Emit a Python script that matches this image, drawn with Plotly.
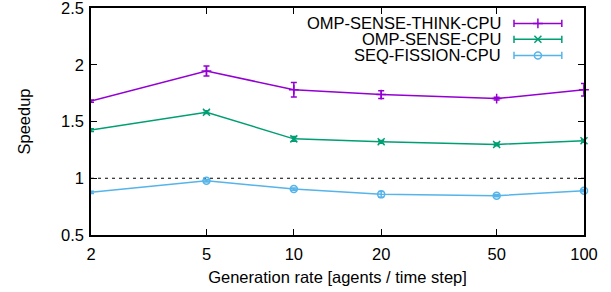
import math
import plotly.graph_objects as go

rates = [2, 5, 10, 20, 50, 100]
names = ["OMP-SENSE-THINK-CPU", "OMP-SENSE-CPU", "SEQ-FISSION-CPU"]
think = [1.68, 1.945, 1.78, 1.737, 1.702, 1.78]
think_err = [0.01, 0.045, 0.064, 0.035, 0.012, 0.055]
sense = [1.424, 1.582, 1.347, 1.321, 1.298, 1.33]
sense_err = [0.012, 0.012, 0.02, 0.012, 0.012, 0.012]
fission = [0.876, 0.978, 0.905, 0.858, 0.846, 0.89]
fission_err = [0.01, 0.012, 0.01, 0.025, 0.01, 0.01]
xticks = [2, 5, 10, 20, 50, 100]
yticks = [0.5, 1, 1.5, 2, 2.5]

colors = ["#9400d3", "#009e73", "#56b4e9"]
symbols = ["cross-thin-open", "x-thin-open", "circle-open"]
series = [(think, think_err), (sense, sense_err), (fission, fission_err)]

XR = [math.log10(2), 2.0]
YR = [0.5, 2.5]

def px_to_data(fx, fy):
    return 10 ** (XR[0] + fx * (XR[1] - XR[0])), YR[0] + fy * (YR[1] - YR[0])

FONT = "Liberation Sans, Arial, sans-serif"
FS = 16.5
fig = go.Figure()

fig.add_trace(go.Scatter(x=[2, 100], y=[1, 1], mode="lines",
                         line=dict(color="black", width=1, dash="3px,4px"),
                         showlegend=False, hoverinfo="skip"))

for (vals, err), c, s, n in zip(series, colors, symbols, names):
    fig.add_trace(go.Scatter(
        x=rates, y=vals, name=n, mode="lines+markers",
        line=dict(color=c, width=1.5),
        marker=dict(symbol=s, size=7, color=c, line=dict(color=c, width=1.5)),
        error_y=dict(type="data", array=err, visible=True, color=c, thickness=1.5, width=3),
        showlegend=False, cliponaxis=False))

# gnuplot-style legend
leg_y = [0.932, 0.862, 0.791]
for i, (n, c, s) in enumerate(zip(names, colors, symbols)):
    fig.add_annotation(x=0.834, y=leg_y[i], xref="paper", yref="paper", text=n,
                       showarrow=False, xanchor="right", yanchor="middle", borderpad=0,
                       font=dict(family=FONT, size=FS, color="black"))
    fig.add_shape(type="line", xref="paper", yref="paper", x0=0.858, x1=0.955,
                  y0=leg_y[i], y1=leg_y[i], line=dict(color=c, width=1.5))
    for xx in (0.858, 0.955):
        fig.add_shape(type="line", xref="paper", yref="paper", x0=xx, x1=xx,
                      y0=leg_y[i] - 0.016, y1=leg_y[i] + 0.016, line=dict(color=c, width=1.5))
    mx, my = px_to_data(0.9065, leg_y[i])
    fig.add_trace(go.Scatter(x=[mx], y=[my], mode="markers", cliponaxis=False,
                             marker=dict(symbol=s, size=7, color=c, line=dict(color=c, width=1.5)),
                             showlegend=False, hoverinfo="skip"))

fig.update_layout(
    width=611, height=292,
    margin=dict(l=91, r=27, t=8, b=57, autoexpand=False),
    paper_bgcolor="white", plot_bgcolor="white",
    font=dict(family=FONT, size=FS, color="black"),
    showlegend=False,
    xaxis=dict(type="log", range=XR, tickvals=xticks, ticktext=[str(v) for v in xticks],
               ticks="inside", ticklen=6, tickcolor="black", showline=True, linecolor="black",
               linewidth=1.5, mirror="allticks", showgrid=False, zeroline=False, automargin=False,
               ticklabeloverflow="allow", ticklabelstandoff=3,
               title=dict(text="Generation rate [agents / time step]", standoff=10,
                          font=dict(size=FS))),
    yaxis=dict(range=YR, tickvals=yticks, ticktext=["0.5", "1", "1.5", "2", "2.5"],
               ticks="inside", ticklen=6, tickcolor="black", showline=True, linecolor="black",
               linewidth=1.5, mirror="allticks", showgrid=False, zeroline=False, automargin=False,
               ticklabeloverflow="allow", ticklabelstandoff=2,
               title=dict(text="Speedup", standoff=26, font=dict(size=FS))),
)

fig.write_html("out.html", config={"displayModeBar": False},
               post_script="document.body.style.margin='0px';")
